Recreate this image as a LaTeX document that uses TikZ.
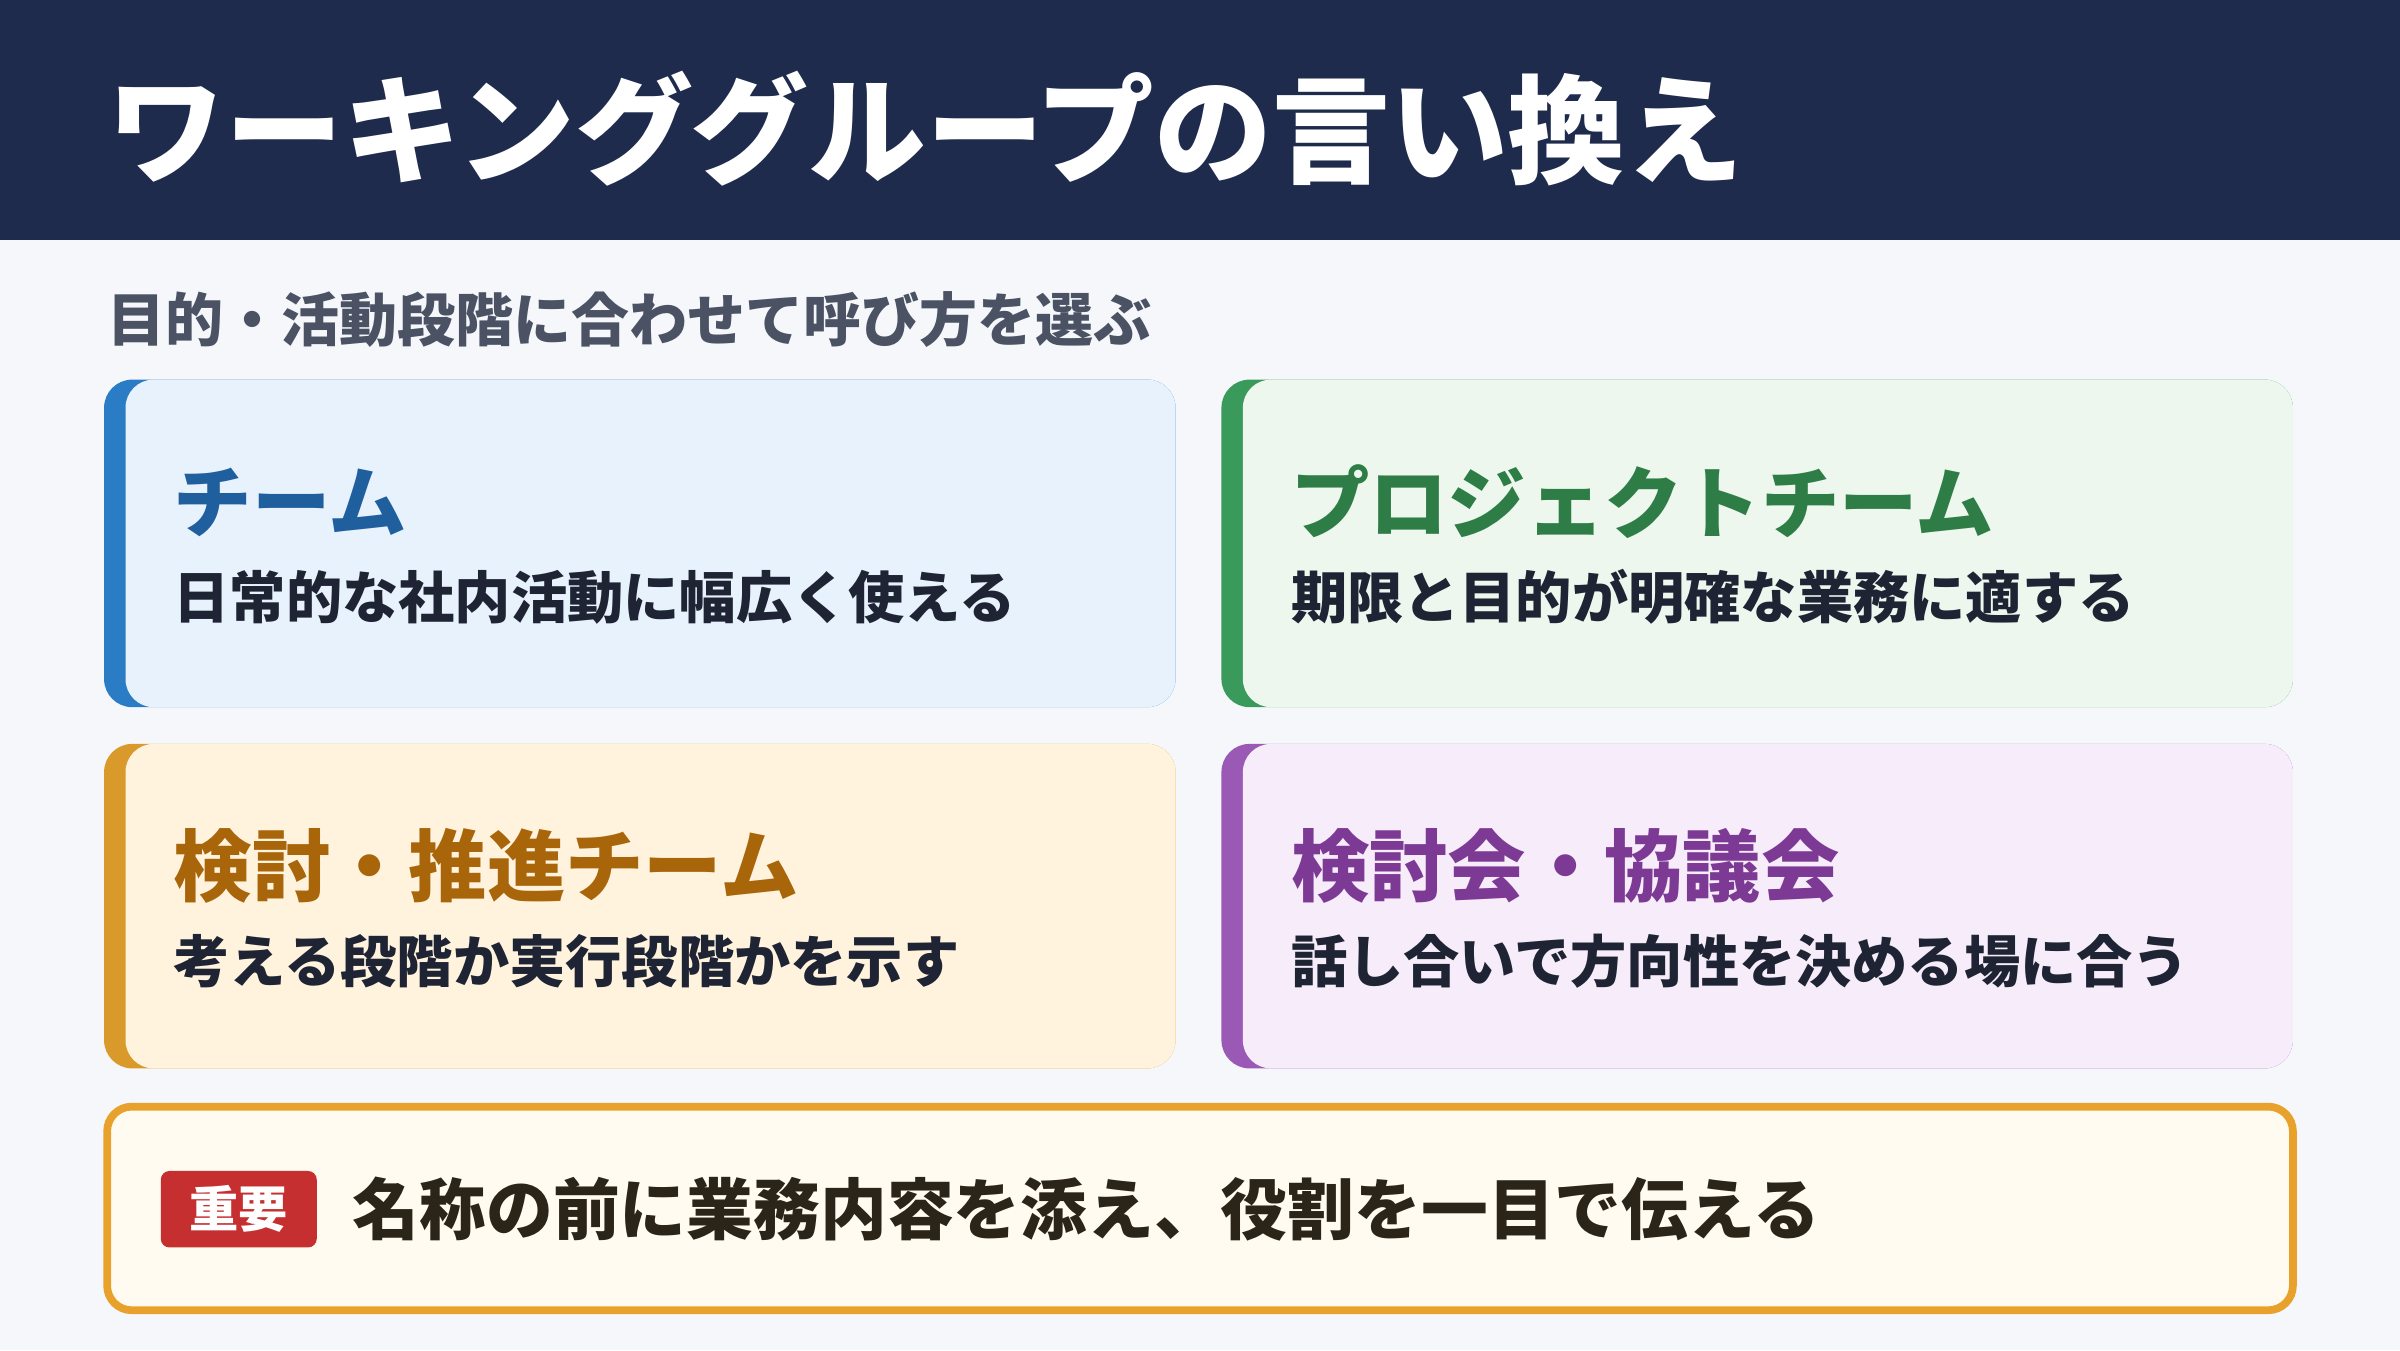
\documentclass[tikz,border=0pt]{standalone}
\usepackage{fontspec}
\newfontfamily\jp{Noto Sans CJK JP}
\definecolor{navy}{HTML}{1E2B4D}
\definecolor{bg}{HTML}{F5F7FB}
\definecolor{sub}{HTML}{4A5263}
\definecolor{txt}{HTML}{1E2433}
\definecolor{bA}{HTML}{2A7DC4}\definecolor{fA}{HTML}{E8F2FC}\definecolor{hA}{HTML}{1F5F9E}
\definecolor{bB}{HTML}{3A9A5B}\definecolor{fB}{HTML}{EDF7EE}\definecolor{hB}{HTML}{2E7D46}
\definecolor{bC}{HTML}{D99A2B}\definecolor{fC}{HTML}{FFF3DD}\definecolor{hC}{HTML}{A8650A}
\definecolor{bD}{HTML}{9B59B6}\definecolor{fD}{HTML}{F6ECFA}\definecolor{hD}{HTML}{7D3A94}
\definecolor{bE}{HTML}{E8A22B}\definecolor{fE}{HTML}{FFFBF0}\definecolor{red}{HTML}{C62F2F}
\definecolor{dark}{HTML}{2B2418}
\begin{document}
\begin{tikzpicture}[x=0.015306cm,y=-0.015306cm,
  head/.style={anchor=west,inner sep=0pt,font=\jp\bfseries\fontsize{22.3}{26}\selectfont},
  body/.style={anchor=west,inner sep=0pt,text=txt,font=\jp\bfseries\fontsize{16}{18}\selectfont}]
\useasboundingbox (0,0) rectangle (1568,882);
\fill[bg] (0,0) rectangle (1568,882);
\fill[navy] (0,0) rectangle (1568,157);
\node[anchor=west,inner sep=0pt,text=white,font=\jp\bfseries\fontsize{33.5}{38}\selectfont] (title) at (70,84) {ワーキンググループの言い換え};
\node[anchor=west,inner sep=0pt,text=sub,font=\jp\bfseries\fontsize{16.5}{18}\selectfont] (subt) at (70,209) {目的・活動段階に合わせて呼び方を選ぶ};
\newcommand{\card}[8]{%
  \fill[#4,rounded corners=8pt] (#1,#2) rectangle ++(700,#3);
  \fill[#5,rounded corners=8pt] (#1+14,#2) rectangle ++(686,#3);
  \node[head,text=#6] (#8h) at (#1+45,#2+80) {#7};}
\card{68}{248}{214}{bA}{fA}{hA}{チーム}{a}
\node[body] (ab) at (113,390) {日常的な社内活動に幅広く使える};
\card{798}{248}{214}{bB}{fB}{hB}{プロジェクトチーム}{b}
\node[body] (bb) at (843,390) {期限と目的が明確な業務に適する};
\card{68}{486}{212}{bC}{fC}{hC}{検討・推進チーム}{c}
\node[body] (cb) at (113,628) {考える段階か実行段階かを示す};
\card{798}{486}{212}{bD}{fD}{hD}{検討会・協議会}{d}
\node[body] (db) at (843,628) {話し合いで方向性を決める場に合う};
\draw[bE,fill=fE,line width=2.2pt,rounded corners=7pt] (70,723) rectangle (1498,856);
\node[fill=red,rounded corners=2.5pt,text=white,inner sep=0pt,minimum width=1.56cm,minimum height=0.765cm,font=\jp\bfseries\fontsize{14}{16}\selectfont] (badge) at (156,790) {重要};
\node[anchor=west,inner sep=0pt,text=dark,font=\jp\bfseries\fontsize{19}{22}\selectfont] (imp) at (230,790) {名称の前に業務内容を添え、役割を一目で伝える};
\end{tikzpicture}
\end{document}
